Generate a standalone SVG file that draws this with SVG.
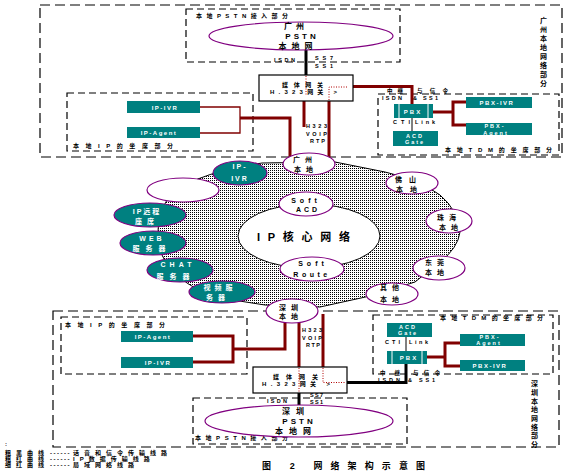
<svg xmlns="http://www.w3.org/2000/svg" width="566" height="474" viewBox="0 0 566 474">
<style>
.odash{fill:none;stroke:#000;stroke-width:1.2;stroke-dasharray:10 5}
.dash{fill:none;stroke:#000;stroke-width:1.2;stroke-dasharray:7 4}
.teal{fill:#008080}
.el{fill:#fff;stroke:#800080;stroke-width:1.2}
.tel{fill:#008080;stroke:#800080;stroke-width:1.2}
.red{fill:none;stroke:#800000;stroke-width:3}
.redt{fill:none;stroke:#800000;stroke-width:1.3}
.blk{fill:none;stroke:#000;stroke-width:3}
.thin{fill:none;stroke:#000;stroke-width:1}
.dot{fill:none;stroke:#b00000;stroke-width:1;stroke-dasharray:1 1.5}
text{font-family:"Liberation Sans","Noto Sans CJK SC",sans-serif;font-weight:bold}
.s5{font-size:5.5px}
.s6{font-size:6px}
.s7{font-size:7px}
.s8{font-size:8px}
.w{fill:#fff}
.k{fill:#000}
.m{text-anchor:middle}
.lg{font-size:6px;fill:#000;letter-spacing:5px}
.ld{font-size:6px;fill:#000;letter-spacing:1.5px}
</style>
<defs>
<pattern id="dots" width="2" height="2" patternUnits="userSpaceOnUse">
<rect width="2" height="2" fill="#fff"/>
<rect width="1" height="1" fill="#000"/>
</pattern>
</defs>

<!-- region boxes -->
<g id="gz-region">
<rect class="odash" x="40" y="5" width="522" height="152"/>
<text class="s7 k" x="540" y="23">广</text>
<text class="s7 k" x="540" y="32">州</text>
<text class="s7 k" x="540" y="41">本</text>
<text class="s7 k" x="540" y="50">地</text>
<text class="s7 k" x="540" y="59">网</text>
<text class="s7 k" x="540" y="68">络</text>
<text class="s7 k" x="540" y="77">部</text>
<text class="s7 k" x="540" y="86">分</text>
</g>
<g id="sz-region">
<rect class="odash" x="53" y="311" width="506" height="136"/>
<text class="s7 k" x="531" y="386">深</text>
<text class="s7 k" x="531" y="395">圳</text>
<text class="s7 k" x="531" y="404">本</text>
<text class="s7 k" x="531" y="412">地</text>
<text class="s7 k" x="531" y="421">网</text>
<text class="s7 k" x="531" y="430">络</text>
<text class="s7 k" x="531" y="438">部</text>
<text class="s7 k" x="531" y="447">分</text>
</g>

<!-- IP cloud -->
<g id="ip-cloud">
<path d="M262,163 L335,162 L385,172 Q420,180 440,195 Q458,210 460,232 Q458,248 440,262 L415,282 L370,296 L320,307 L265,305 L233,300 Q200,293 187,283 Q160,265 158,240 Q157,215 167,200 Q178,188 195,180 Q225,168 262,163 Z" fill="url(#dots)" stroke="#000" stroke-width="1"/>
<ellipse cx="309" cy="236" rx="71" ry="32" fill="#fff" stroke="#000" stroke-width="1"/>
<text class="k" x="257" y="241" font-size="11" textLength="93" lengthAdjust="spacing">IP核心网络</text>
</g>

<!-- sub-boxes -->
<g id="pstn-gz-box">
<rect class="dash" x="186" y="9" width="214" height="53"/>
<text class="s6 k" x="196" y="18" textLength="92" lengthAdjust="spacing">本地PSTN接入部分</text>
</g>
<g id="ip-gz-box">
<rect class="dash" x="67" y="93" width="186" height="58"/>
<text class="s6 k" x="73" y="148" textLength="100" lengthAdjust="spacing">本地IP的坐席部分</text>
</g>
<g id="tdm-gz-box">
<rect class="dash" x="378" y="94" width="181" height="61"/>
<text class="s6 k" x="445" y="152" textLength="107" lengthAdjust="spacing">本地TDM的坐席部分</text>
</g>
<g id="ip-sz-box">
<rect class="dash" x="61" y="317" width="186" height="57"/>
<text class="s6 k" x="65" y="327" textLength="100" lengthAdjust="spacing">本地IP的坐席部分</text>
</g>
<g id="tdm-sz-box">
<rect class="dash" x="373" y="315" width="180" height="59"/>
<text class="s6 k" x="440" y="320" textLength="103" lengthAdjust="spacing">本地TDM的坐席部分</text>
</g>
<g id="pstn-sz-box">
<rect class="dash" x="193" y="398" width="214" height="46"/>
<text class="s6 k" x="195" y="440" textLength="93" lengthAdjust="spacing">本地PSTN接入部分</text>
</g>

<!-- connectors -->
<g id="connectors">
<path class="blk" d="M306,50 V75"/>
<path class="redt" d="M200,107 H240 V133 H200"/>
<path class="red" d="M240,118 H290 V158"/>
<path class="red" d="M304,101 V127"/>
<path class="red" d="M329,101 V158"/>
<path class="red" d="M347,86.5 H412 V104"/>
<path class="red" d="M433,112 H453 M453,102 V125 M451.5,102 H466 M451.5,125 H466"/>
<path class="thin" d="M412,118 V131"/>
<path class="red" d="M193,336 H233 V362 H193"/>
<path class="red" d="M233,349 H285 V320"/>
<path class="red" d="M299,320 V367"/>
<path class="red" d="M323,314 V367"/>
<path class="blk" d="M406,364 V382.5 H347"/>
<path class="blk" d="M299,393 V405"/>
<path class="red" d="M427,357 H445 M445,343 V366 M443.5,343 H460 M443.5,366 H460"/>
<path class="thin" d="M406,337 V351"/>
</g>

<!-- PSTN Guangzhou -->
<g id="pstn-gz">
<ellipse class="el" cx="301" cy="36" rx="92" ry="14"/>
<text class="s8 k m" x="296" y="29" letter-spacing="4">广州</text>
<text class="s8 k m" x="302" y="38.5" letter-spacing="3">PSTN</text>
<text class="s8 k m" x="298" y="49" letter-spacing="5">本地网</text>
<text class="s5 k" x="274" y="62" textLength="21" lengthAdjust="spacing">ISDN</text>
<text class="s5 k" x="315" y="59.5" textLength="18" lengthAdjust="spacing">SS7</text>
<text class="s5 k" x="315" y="68" textLength="18" lengthAdjust="spacing">SS1</text>
</g>

<!-- Gateway Guangzhou -->
<g id="gw-gz">
<rect x="259" y="75" width="94" height="26" fill="#fff" stroke="#000" stroke-width="1.2"/>
<path class="dot" d="M306,76 V96"/>
<path class="dot" d="M329,100 V87 H347"/>
<text class="s6 k" x="282" y="87" textLength="41" lengthAdjust="spacing">媒体网关</text>
<text class="s6 k" x="270" y="93.5" textLength="67" lengthAdjust="spacing">H.323网关 &gt;</text>
<text class="s5 k" x="306" y="128" textLength="21" lengthAdjust="spacing">H323</text>
<text class="s5 k" x="306" y="136" textLength="21" lengthAdjust="spacing">VOIP</text>
<text class="s5 k" x="310" y="143" textLength="15" lengthAdjust="spacing">RTP</text>
</g>

<!-- IP agent side Guangzhou -->
<g id="ip-ivr-gz">
<rect class="teal" x="127" y="101" width="73" height="12"/>
<text class="s6 w m" x="165" y="110" letter-spacing="1.5">IP-IVR</text>
</g>
<g id="ip-agent-gz">
<rect class="teal" x="127" y="127" width="73" height="11"/>
<text class="s6 w m" x="159" y="135" letter-spacing="1.5">IP-Agent</text>
</g>

<!-- TDM side Guangzhou -->
<g id="pbx-gz">
<rect class="teal" x="394" y="104" width="39" height="14"/>
<path d="M399,104 V118 M428,104 V118" stroke="#fff" stroke-width="1"/>
<text class="s6 w m" x="413" y="114" letter-spacing="2">PBX</text>
<text class="s5 k" x="387" y="93" textLength="16" lengthAdjust="spacing">中继</text>
<text class="s5 k" x="417" y="93" textLength="31" lengthAdjust="spacing">与信令</text>
<text class="s5 k" x="382" y="100" textLength="20" lengthAdjust="spacing">ISDN</text>
<text class="s5 k" x="413" y="100" textLength="25" lengthAdjust="spacing">&amp; SS1</text>
<text class="s5 k" x="393" y="124" textLength="17" lengthAdjust="spacing">CTI</text>
<text class="s5 k" x="415" y="124" textLength="20" lengthAdjust="spacing">Link</text>
</g>
<g id="acd-gz">
<rect class="teal" x="393" y="131" width="45" height="15"/>
<text class="s5 w m" x="415" y="137.5" letter-spacing="2">ACD</text>
<text class="s5 w m" x="415" y="144" letter-spacing="2">Gate</text>
</g>
<g id="pbx-ivr-gz">
<rect class="teal" x="466" y="97" width="66" height="11"/>
<text class="s6 w m" x="497" y="105" letter-spacing="1.5">PBX-IVR</text>
</g>
<g id="pbx-agent-gz">
<rect class="teal" x="466" y="123" width="66" height="12"/>
<text class="s5 w m" x="495" y="128" letter-spacing="2">PBX-</text>
<text class="s5 w m" x="496" y="134.5" letter-spacing="2">Agent</text>
</g>

<!-- cloud members -->
<g id="gz-local">
<ellipse class="el" cx="309" cy="164" rx="26" ry="11"/>
<text class="s7 k m" x="305" y="162" letter-spacing="5">广州</text>
<text class="s7 k m" x="306" y="172" letter-spacing="5">本地</text>
</g>
<g id="fs-local">
<ellipse class="el" cx="412" cy="183" rx="26" ry="11"/>
<text class="s7 k m" x="409" y="182" letter-spacing="7">佛山</text>
<text class="s7 k m" x="410" y="192" letter-spacing="7">本地</text>
</g>
<g id="zh-local">
<ellipse class="el" cx="449" cy="221" rx="23" ry="12"/>
<text class="s7 k m" x="449" y="220" letter-spacing="5">珠海</text>
<text class="s7 k m" x="451" y="230" letter-spacing="5">本地</text>
</g>
<g id="dg-local">
<ellipse class="el" cx="439" cy="268" rx="26" ry="12"/>
<text class="s7 k m" x="437" y="265" letter-spacing="5">东莞</text>
<text class="s7 k m" x="437" y="275" letter-spacing="5">本地</text>
</g>
<g id="qt-local">
<ellipse class="el" cx="392" cy="294" rx="26" ry="11"/>
<text class="s7 k m" x="392" y="290" letter-spacing="5">其他</text>
<text class="s7 k m" x="392" y="302" letter-spacing="5">本地</text>
</g>
<g id="sz-local">
<ellipse class="el" cx="292" cy="311" rx="26" ry="12"/>
<text class="s7 k m" x="291" y="310" letter-spacing="5">深圳</text>
<text class="s7 k m" x="291" y="319" letter-spacing="5">本地</text>
</g>
<g id="soft-acd">
<ellipse class="el" cx="306" cy="204" rx="27" ry="12"/>
<text class="s7 k m" x="306" y="203" letter-spacing="4">Soft</text>
<text class="s7 k m" x="308" y="212" letter-spacing="3">ACD</text>
</g>
<g id="soft-route">
<ellipse class="el" cx="312" cy="269" rx="32" ry="12"/>
<text class="s7 k m" x="313" y="266" letter-spacing="4">Soft</text>
<text class="s7 k m" x="312" y="277" letter-spacing="3.5">Route</text>
</g>
<g id="ip-ivr-cloud">
<ellipse class="tel" cx="240" cy="173" rx="27" ry="12"/>
<text class="s7 w m" x="240" y="169" letter-spacing="2">IP-</text>
<text class="s7 w m" x="240" y="181" letter-spacing="2">IVR</text>
</g>
<g id="blank-node">
<ellipse class="el" cx="183" cy="190" rx="36" ry="12"/>
</g>
<g id="ip-remote">
<ellipse class="tel" cx="150" cy="215" rx="36" ry="12"/>
<text class="s7 w m" x="147" y="214" letter-spacing="2">IP远程</text>
<text class="s7 w m" x="147" y="224" letter-spacing="5">座席</text>
</g>
<g id="web">
<ellipse class="tel" cx="153" cy="243" rx="33" ry="12"/>
<text class="s7 w m" x="152" y="241" letter-spacing="3">WEB</text>
<text class="s7 w m" x="152" y="251" letter-spacing="6">服务器</text>
</g>
<g id="chat">
<ellipse class="tel" cx="180" cy="270" rx="33" ry="12"/>
<text class="s7 w m" x="178" y="267" letter-spacing="4">CHAT</text>
<text class="s7 w m" x="176" y="279" letter-spacing="6">服务器</text>
</g>
<g id="video">
<ellipse class="tel" cx="222" cy="292" rx="33" ry="11"/>
<text class="s7 w m" x="220" y="290" letter-spacing="4">视频服</text>
<text class="s7 w m" x="218" y="300" letter-spacing="5">务器</text>
</g>

<!-- Shenzhen IP agent side -->
<g id="ip-agent-sz">
<rect class="teal" x="121" y="331" width="72" height="11"/>
<text class="s6 w m" x="153" y="339" letter-spacing="1.5">IP-Agent</text>
</g>
<g id="ip-ivr-sz">
<rect class="teal" x="121" y="357" width="72" height="11"/>
<text class="s6 w m" x="158" y="365" letter-spacing="1.5">IP-IVR</text>
</g>

<!-- Gateway Shenzhen -->
<g id="gw-sz">
<rect x="253" y="367" width="94" height="26" fill="#fff" stroke="#000" stroke-width="1.2"/>
<path class="dot" d="M299,368 V392"/>
<path class="dot" d="M323,368 V382.5 H346"/>
<text class="s6 k" x="273" y="379" textLength="45" lengthAdjust="spacing">媒体网关</text>
<text class="s6 k" x="262" y="386" textLength="68" lengthAdjust="spacing">H.323网关 &gt;</text>
<text class="s5 k" x="302" y="332" textLength="20" lengthAdjust="spacing">H323</text>
<text class="s5 k" x="302" y="340" textLength="20" lengthAdjust="spacing">VOIP</text>
<text class="s5 k" x="306" y="347" textLength="14" lengthAdjust="spacing">RTP</text>
</g>

<!-- TDM side Shenzhen -->
<g id="acd-sz">
<rect class="teal" x="387" y="323" width="45" height="14"/>
<text class="s5 w m" x="408" y="328.5" letter-spacing="2">ACD</text>
<text class="s5 w m" x="408" y="335" letter-spacing="2">Gate</text>
</g>
<g id="pbx-sz">
<rect class="teal" x="387" y="351" width="40" height="13"/>
<path d="M392,351 V364 M422,351 V364" stroke="#fff" stroke-width="1"/>
<text class="s6 w m" x="409" y="360" letter-spacing="2">PBX</text>
<text class="s5 k" x="385" y="344" textLength="15" lengthAdjust="spacing">CTI</text>
<text class="s5 k" x="409" y="344" textLength="19" lengthAdjust="spacing">Link</text>
<text class="s5 k" x="380" y="375" textLength="20" lengthAdjust="spacing">中继</text>
<text class="s5 k" x="413" y="375" textLength="27" lengthAdjust="spacing">与信令</text>
<text class="s5 k" x="378" y="382" textLength="22" lengthAdjust="spacing">ISDN</text>
<text class="s5 k" x="408" y="382" textLength="27" lengthAdjust="spacing">&amp; SS1</text>
</g>
<g id="pbx-agent-sz">
<rect class="teal" x="460" y="334" width="65" height="12"/>
<text class="s5 w m" x="490" y="339" letter-spacing="2">PBX-</text>
<text class="s5 w m" x="489" y="345" letter-spacing="2">Agent</text>
</g>
<g id="pbx-ivr-sz">
<rect class="teal" x="460" y="360" width="65" height="11"/>
<text class="s6 w m" x="490" y="368" letter-spacing="1.5">PBX-IVR</text>
</g>

<!-- PSTN Shenzhen -->
<g id="pstn-sz">
<ellipse class="el" cx="299" cy="421" rx="94" ry="16"/>
<text class="s8 k m" x="296" y="414" letter-spacing="6">深圳</text>
<text class="s8 k m" x="299" y="424" letter-spacing="3">PSTN</text>
<text class="s8 k m" x="296" y="434" letter-spacing="6">本地网</text>
<text class="s5 k" x="267" y="403" textLength="20" lengthAdjust="spacing">ISDN</text>
<text class="s5 k" x="310" y="397" textLength="13" lengthAdjust="spacing">SS7</text>
<text class="s5 k" x="310" y="404" textLength="13" lengthAdjust="spacing">SS1</text>
</g>

<!-- legend and caption -->
<g id="legend">
<text class="s6 k" x="5" y="446">:</text>
<text class="lg" x="5" y="455">粗黑曲线</text>
<text class="ld" x="50" y="455">------</text>
<text class="lg" x="73" y="455">话音和信令传输线路</text>
<text class="lg" x="5" y="461">粗红曲线</text>
<text class="ld" x="50" y="461">------</text>
<text class="lg" x="73" y="461">IP数据传输线路</text>
<text class="lg" x="5" y="467">细红曲线</text>
<text class="ld" x="50" y="467">------</text>
<text class="lg" x="73" y="467">局域网络线路</text>
</g>
<text class="k" x="262" y="469" font-size="9" textLength="163" lengthAdjust="spacing">图 2    网络架构示意图</text>
</svg>
